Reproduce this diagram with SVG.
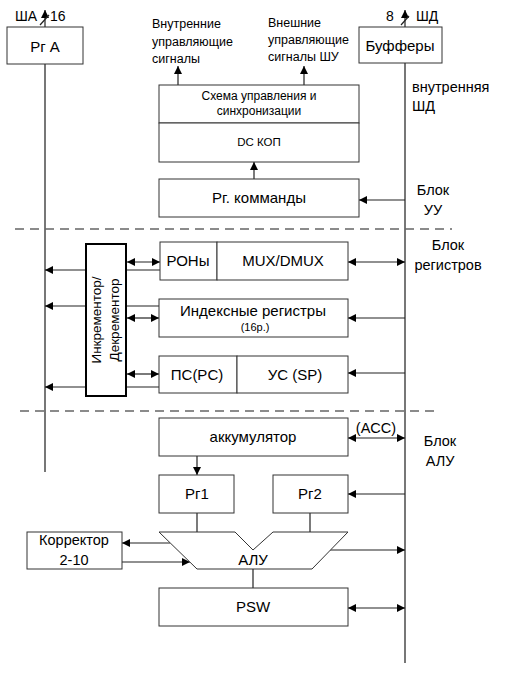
<svg xmlns="http://www.w3.org/2000/svg" width="505" height="674" viewBox="0 0 505 674">
<defs>
<marker id="ah" viewBox="0 0 10 10" refX="10" refY="5" markerWidth="9" markerHeight="8" markerUnits="userSpaceOnUse" orient="auto-start-reverse">
<path d="M0,0 L10,5 L0,10 Z" fill="#000"/>
</marker>
<style>
text{font-family:"Liberation Sans",Arial,sans-serif;fill:#000;}
.box{fill:#fff;stroke:#333;stroke-width:1;}
.bus{stroke:#777;stroke-width:2;fill:none;}
.ln{stroke:#222;stroke-width:1.2;fill:none;}
.dash{stroke:#666;stroke-width:1.5;stroke-dasharray:9,6;fill:none;}
.c{text-anchor:middle;}
</style>
</defs>
<rect width="505" height="674" fill="#fff"/>

<g id="connectors">
<line class="bus" x1="45" y1="64" x2="45" y2="472"/>
<line class="bus" x1="405" y1="63" x2="405" y2="663"/>
<line class="ln" x1="45" y1="27" x2="45" y2="10" marker-end="url(#ah)"/>
<line class="ln" x1="40" y1="25" x2="49" y2="15"/>
<line class="ln" x1="405" y1="27" x2="405" y2="10" marker-end="url(#ah)"/>
<line class="ln" x1="401" y1="25" x2="409" y2="16"/>
<line class="ln" x1="178" y1="85" x2="178" y2="66" marker-end="url(#ah)"/>
<line class="ln" x1="304" y1="85" x2="304" y2="66" marker-end="url(#ah)"/>
<line class="ln" x1="254" y1="179" x2="254" y2="162" marker-end="url(#ah)"/>
<line class="ln" x1="405" y1="200" x2="359" y2="200" marker-end="url(#ah)"/>
<line class="dash" x1="15" y1="229" x2="452" y2="229"/>
<line class="dash" x1="20" y1="411" x2="440" y2="411"/>
<!-- registers -->
<line class="ln" x1="348" y1="262" x2="405" y2="262" marker-start="url(#ah)" marker-end="url(#ah)"/>
<line class="ln" x1="127" y1="262" x2="160" y2="262" marker-start="url(#ah)" marker-end="url(#ah)"/>
<line class="ln" x1="160" y1="270" x2="45" y2="270" marker-end="url(#ah)" stroke-width="1.6"/>
<line class="ln" x1="159" y1="306" x2="45" y2="306" marker-end="url(#ah)" stroke-width="1.6"/>
<line class="ln" x1="127" y1="318" x2="159" y2="318" marker-start="url(#ah)" marker-end="url(#ah)"/>
<line class="ln" x1="405" y1="318" x2="348" y2="318" marker-end="url(#ah)"/>
<line class="ln" x1="127" y1="374" x2="159" y2="374" marker-start="url(#ah)" marker-end="url(#ah)"/>
<line class="ln" x1="159" y1="387" x2="45" y2="387" marker-end="url(#ah)" stroke-width="1.6"/>
<line class="ln" x1="405" y1="373" x2="348" y2="373" marker-end="url(#ah)"/>
<!-- ALU -->
<line class="ln" x1="348" y1="438" x2="405" y2="438" marker-start="url(#ah)" marker-end="url(#ah)"/>
<line class="ln" x1="197" y1="456" x2="197" y2="475" marker-end="url(#ah)"/>
<line class="ln" x1="405" y1="494" x2="348" y2="494" marker-end="url(#ah)"/>
<line class="ln" x1="197" y1="513" x2="197" y2="532"/>
<line class="ln" x1="310" y1="513" x2="310" y2="532"/>
<line class="ln" x1="170" y1="543" x2="122" y2="543" marker-end="url(#ah)"/>
<line class="ln" x1="122" y1="562" x2="190" y2="562" marker-end="url(#ah)"/>
<line class="ln" x1="330" y1="550" x2="405" y2="550" marker-end="url(#ah)"/>
<line class="ln" x1="253" y1="569" x2="253" y2="588"/>
<line class="ln" x1="348" y1="608" x2="405" y2="608" marker-start="url(#ah)" marker-end="url(#ah)"/>
</g>

<g id="labels">
<text x="15" y="21" font-size="14">ША</text>
<text x="50" y="21" font-size="14">16</text>
<text x="386" y="21" font-size="14">8</text>
<text x="416" y="21" font-size="14">ШД</text>
<text x="152" y="28" font-size="12.5">Внутренние</text>
<text x="152" y="46" font-size="12.5">управляющие</text>
<text x="152" y="63" font-size="12.5">сигналы</text>
<text x="268" y="27" font-size="12.5">Внешние</text>
<text x="268" y="44" font-size="12.5">управляющие</text>
<text x="268" y="61" font-size="12.5">сигналы ШУ</text>
<text x="412" y="92" font-size="14.5">внутренняя</text>
<text x="412" y="111" font-size="14.5">ШД</text>
<text x="433" y="195" font-size="14.5" class="c">Блок</text>
<text x="433" y="215" font-size="14.5" class="c">УУ</text>
<text x="448" y="250" font-size="14.5" class="c">Блок</text>
<text x="448" y="270" font-size="14.5" class="c">регистров</text>
<text x="440" y="446" font-size="14.5" class="c">Блок</text>
<text x="440" y="466" font-size="14.5" class="c">АЛУ</text>
<text x="376" y="433" font-size="14.5" class="c">(ACC)</text>
</g>

<g id="prA"><rect class="box" x="7" y="27" width="76" height="37"/><text x="45" y="52" font-size="15" class="c">Рг А</text></g>
<g id="buffers"><rect class="box" x="359" y="27" width="83" height="36"/><text x="400" y="51" font-size="15" class="c">Буфферы</text></g>
<g id="control"><rect class="box" x="159" y="85" width="200" height="38"/><text x="259" y="100" font-size="12" class="c">Схема управления и</text><text x="259" y="115" font-size="12" class="c">синхронизации</text></g>
<g id="dc"><rect class="box" x="159" y="123" width="200" height="39"/><text x="259" y="146" font-size="11.5" class="c">DC КОП</text></g>
<g id="rgcmd"><rect class="box" x="159" y="179" width="200" height="38"/><text x="259" y="203" font-size="15" class="c">Рг. комманды</text></g>
<g id="incdec"><rect x="86" y="244" width="40" height="152" fill="#fff" stroke="#000" stroke-width="2"/><text transform="translate(101,320) rotate(-90)" font-size="13.5" class="c">Инкрементор/</text><text transform="translate(119,320) rotate(-90)" font-size="13.5" class="c">Декрементор</text></g>
<g id="rony"><rect class="box" x="160" y="242" width="57" height="38"/><text x="188" y="266" font-size="15" class="c">РОНы</text></g>
<g id="mux"><rect class="box" x="217" y="242" width="131" height="38"/><text x="283" y="266" font-size="15" class="c">MUX/DMUX</text></g>
<g id="index"><rect class="box" x="159" y="299" width="189" height="38"/><text x="253" y="316" font-size="15" class="c">Индексные регистры</text><text x="255" y="331" font-size="11" class="c">(16р.)</text></g>
<g id="pc"><rect class="box" x="159" y="356" width="78" height="37"/><text x="197" y="380" font-size="15" class="c">ПС(PC)</text></g>
<g id="sp"><rect class="box" x="237" y="356" width="111" height="37"/><text x="295" y="380" font-size="15" class="c">УС (SP)</text></g>
<g id="acc"><rect class="box" x="159" y="418" width="189" height="38"/><text x="253" y="442" font-size="15" class="c">аккумулятор</text></g>
<g id="rg1"><rect class="box" x="159" y="475" width="75" height="38"/><text x="197" y="499" font-size="15" class="c">Рг1</text></g>
<g id="rg2"><rect class="box" x="273" y="475" width="75" height="38"/><text x="310" y="499" font-size="15" class="c">Рг2</text></g>
<g id="alu"><polygon class="box" points="159,532 235,532 253,550 273,532 348,532 312,569 197,569"/><text x="253" y="565" font-size="15" class="c">АЛУ</text></g>
<g id="corrector"><rect class="box" x="27" y="532" width="95" height="37"/><text x="74" y="545" font-size="14.5" class="c">Корректор</text><text x="74" y="565" font-size="14.5" class="c">2-10</text></g>
<g id="psw"><rect class="box" x="159" y="588" width="189" height="38"/><text x="253" y="612" font-size="15" class="c">PSW</text></g>
</svg>
